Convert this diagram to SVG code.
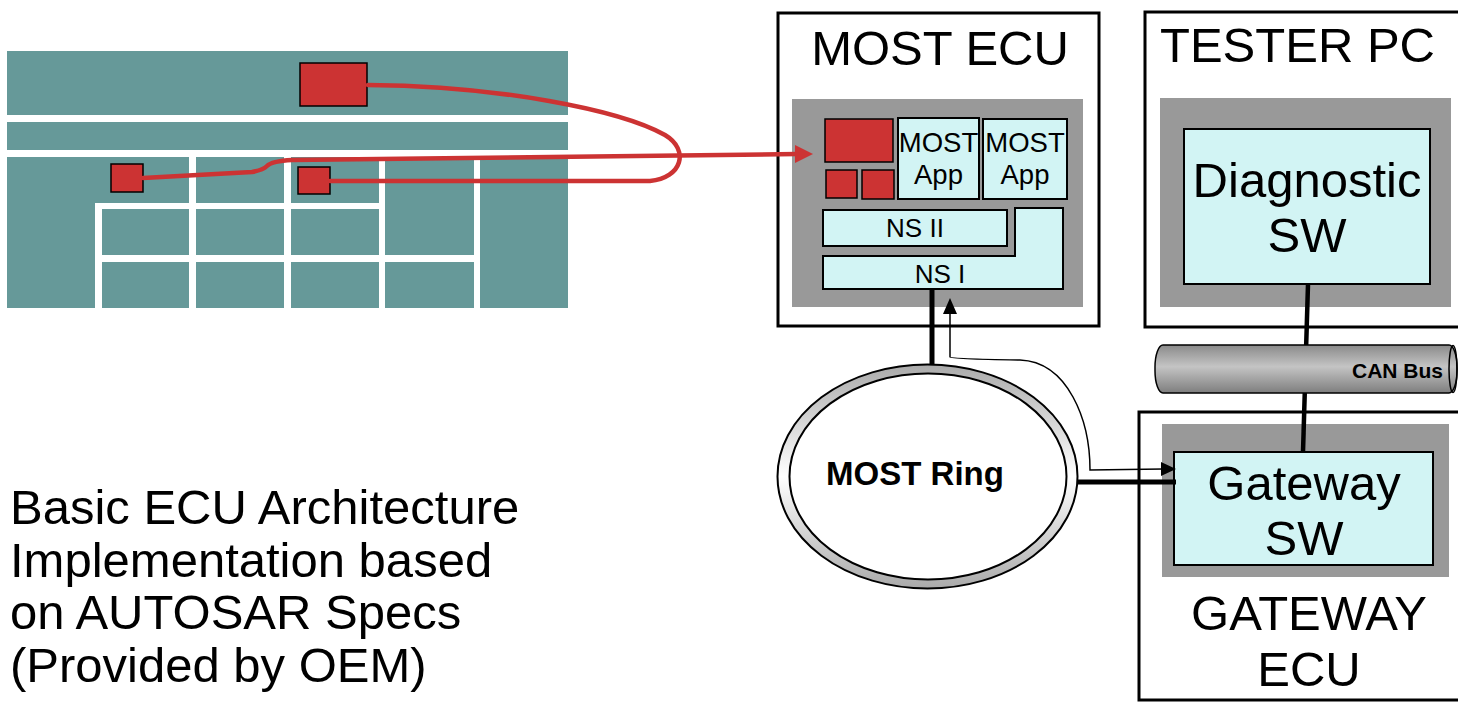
<svg xmlns="http://www.w3.org/2000/svg" width="1458" height="702" viewBox="0 0 1458 702">
<style>
text{font-family:"Liberation Sans",Arial,sans-serif;fill:#000}
.big{font-size:49px}
.mid{font-size:26px}
.app{font-size:27.5px}
.bold{font-weight:bold}
.frame{fill:#fff;stroke:#000;stroke-width:3}
.gray{fill:#999999}
.cyan{fill:#d2f4f4;stroke:#000;stroke-width:2}
.red{fill:#cc3333;stroke:#000;stroke-width:1.5}
.redline{fill:none;stroke:#cc3333;stroke-width:4.5;stroke-linecap:round}
.wl{fill:#fff}
.thick{stroke:#000;stroke-width:5;fill:none}
.thin{stroke:#000;stroke-width:1.5;fill:none}
</style>
<defs>
<linearGradient id="ringGrad" x1="0" y1="0" x2="0" y2="1">
<stop offset="0" stop-color="#aaaaaa"/>
<stop offset="0.5" stop-color="#ffffff"/>
<stop offset="1" stop-color="#aaaaaa"/>
</linearGradient>
<linearGradient id="busGrad" x1="0" y1="0" x2="0" y2="1">
<stop offset="0" stop-color="#8a8a8a"/>
<stop offset="0.45" stop-color="#c4c4c4"/>
<stop offset="1" stop-color="#7e7e7e"/>
</linearGradient>
</defs>

<g id="basic-ecu-architecture">
<rect x="7" y="51" width="561" height="257" fill="#669999"/>
<rect class="wl" x="7" y="115" width="561" height="7"/>
<rect class="wl" x="7" y="150" width="561" height="7"/>
<rect class="wl" x="189" y="157" width="7" height="151"/>
<rect class="wl" x="284" y="157" width="7" height="151"/>
<rect class="wl" x="379" y="157" width="6" height="151"/>
<rect class="wl" x="474" y="157" width="6" height="151"/>
<rect class="wl" x="95" y="203" width="7" height="105"/>
<rect class="wl" x="95" y="203" width="290" height="6"/>
<rect class="wl" x="95" y="255" width="385" height="7"/>
<rect class="red" x="300" y="63" width="67" height="43"/>
<rect class="red" x="111" y="164" width="32" height="28"/>
<rect class="red" x="298" y="167" width="32" height="27"/>
</g>

<g id="caption">
<text class="big" x="10" y="524">Basic ECU Architecture</text>
<text class="big" x="10" y="577">Implementation based</text>
<text class="big" x="10" y="629">on AUTOSAR Specs</text>
<text class="big" x="10" y="682">(Provided by OEM)</text>
</g>

<g id="most-ecu">
<rect class="frame" x="778" y="13" width="321" height="313"/>
<text class="big" x="940" y="65" text-anchor="middle">MOST ECU</text>
<rect class="gray" x="792" y="99" width="291" height="208"/>
<rect class="red" x="825" y="119" width="68" height="43"/>
<rect class="red" x="826" y="170" width="31" height="28"/>
<rect class="red" x="862" y="170" width="32" height="29"/>
<rect class="cyan" x="898" y="118" width="81" height="81"/>
<text class="app" x="938.5" y="152" text-anchor="middle">MOST</text>
<text class="app" x="938.5" y="184" text-anchor="middle">App</text>
<rect class="cyan" x="983" y="119" width="84" height="80"/>
<text class="app" x="1025" y="152" text-anchor="middle">MOST</text>
<text class="app" x="1025" y="184" text-anchor="middle">App</text>
<rect class="cyan" x="823" y="210" width="184" height="36"/>
<text class="mid" x="915" y="237" text-anchor="middle">NS II</text>
<polygon class="cyan" points="823,256 1015,256 1015,208 1063,208 1063,289 823,289"/>
<text class="mid" x="940" y="283" text-anchor="middle">NS I</text>
</g>

<g id="tester-pc">
<rect class="frame" x="1145" y="12" width="330" height="315"/>
<text class="big" x="1160" y="62">TESTER PC</text>
<rect class="gray" x="1160" y="98" width="291" height="209"/>
<rect class="cyan" x="1184" y="129" width="246" height="155"/>
<text class="big" x="1307" y="197" text-anchor="middle">Diagnostic</text>
<text class="big" x="1307" y="252" text-anchor="middle">SW</text>
</g>

<g id="gateway-ecu">
<rect class="frame" x="1139" y="412" width="330" height="288"/>
<rect class="gray" x="1162" y="424" width="287" height="153"/>
<rect class="cyan" x="1174" y="452" width="259" height="113"/>
<text class="big" x="1304" y="500" text-anchor="middle">Gateway</text>
<text class="big" x="1304" y="555" text-anchor="middle">SW</text>
<text class="big" x="1309" y="630" text-anchor="middle">GATEWAY</text>
<text class="big" x="1309" y="686" text-anchor="middle">ECU</text>
</g>

<g id="connectors">
<path class="redline" d="M368,85 C500,86 620,110 665,135 C690,150 682,178 650,181 L330,181"/>
<path class="redline" d="M143,178 L252,172 Q263,170 267,166 Q272,161 292,160 L797,154"/>
<polygon points="813,154 795,145 795,163" fill="#cc3333"/>
<line class="thick" x1="932" y1="289" x2="932" y2="366"/>
<line class="thick" x1="1076" y1="482" x2="1176" y2="482"/>
<line x1="1308" y1="284" x2="1303" y2="452" stroke="#000" stroke-width="4.5"/>
<path class="thin" d="M950,312 L950,357 Q951,359 1020,360 C1068,362 1090,420 1090,470 L1163,469"/>
<polygon points="950,298 943,314 957,314" fill="#000"/>
<polygon points="1176,469 1161,462 1161,476" fill="#000"/>
</g>

<g id="most-ring">
<ellipse cx="927.5" cy="476.5" rx="150" ry="112" fill="url(#ringGrad)" stroke="#000" stroke-width="2"/>
<ellipse cx="928" cy="476.5" rx="138.5" ry="103" fill="#fff" stroke="#000" stroke-width="2"/>
<text class="bold" x="915" y="485" font-size="33" text-anchor="middle">MOST Ring</text>
</g>

<g id="can-bus">
<rect x="1155" y="345" width="302" height="48" rx="8" ry="22" fill="url(#busGrad)" stroke="#000" stroke-width="1.5"/>
<ellipse cx="1453" cy="369" rx="4" ry="23.5" fill="none" stroke="#000" stroke-width="1.5"/>
<text class="bold" x="1443" y="378" font-size="21" text-anchor="end">CAN Bus</text>
</g>
</svg>
